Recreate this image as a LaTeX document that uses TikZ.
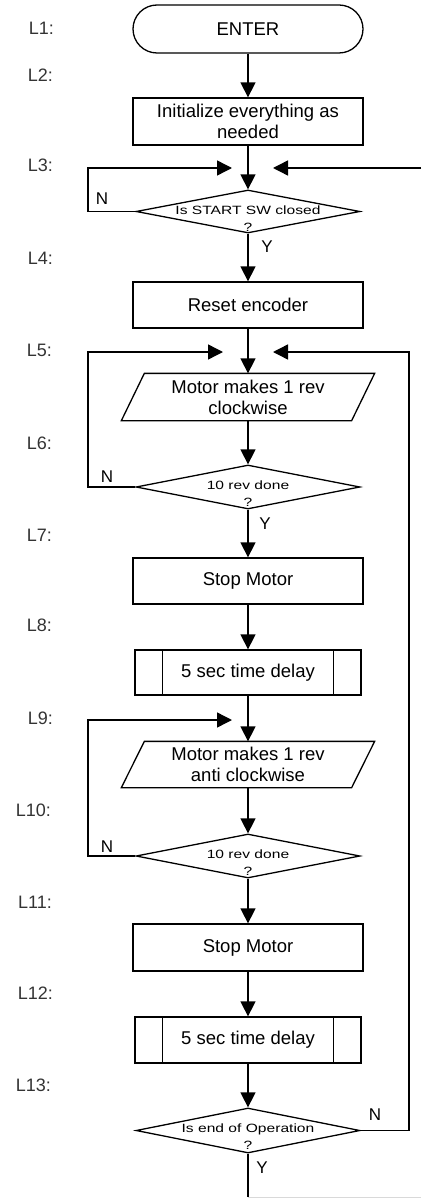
\documentclass[tikz,border=0pt]{standalone}
\usepackage{fontspec}
\setmainfont{Liberation Sans}
\newfontfamily\widefont[FakeStretch=1.3]{Liberation Sans}
\usetikzlibrary{arrows.meta,calc,shapes.geometric}
\tikzset{
  box/.style={draw, line width=1.3pt, rectangle, minimum width=230pt, minimum height=46pt, inner sep=0pt, align=center, font=\fontsize{18.5}{21}\selectfont},
  nobox/.style={box, draw=none},
  dia/.style={draw, line width=1.3pt, shape=diamond, inner sep=0pt},
  dtext/.style={align=center, inner sep=0pt, font=\widefont\fontsize{12}{17}\selectfont},
  arr/.style={draw, line width=1.4pt, -{Triangle[length=15pt,width=15pt]}},
  conn/.style={draw, line width=1.4pt},
  lab/.style={anchor=east, inner sep=0pt, text=black!80, font=\fontsize{18}{20}\selectfont},
  yn/.style={inner sep=0pt, font=\fontsize{17}{19}\selectfont}
}
\begin{document}
\begin{tikzpicture}[x=1pt,y=-1pt]
\useasboundingbox (0,0) rectangle (421,1198);

% line labels
\node[lab] (l1) at (54,28) {L1:};
\node[lab] (l2) at (53,75) {L2:};
\node[lab] (l3) at (53,165) {L3:};
\node[lab] (l4) at (53,258) {L4:};
\node[lab] (l5) at (52,350) {L5:};
\node[lab] (l6) at (52,443) {L6:};
\node[lab] (l7) at (52,535) {L7:};
\node[lab] (l8) at (52,625) {L8:};
\node[lab] (l9) at (53,718) {L9:};
\node[lab] (l10) at (51,810) {L10:};
\node[lab] (l11) at (52,902) {L11:};
\node[lab] (l12) at (53,993) {L12:};
\node[lab] (l13) at (51,1085) {L13:};

% shapes
\node[box, minimum height=48pt, rounded corners=24pt] (enter) at (248,29) {ENTER};
\node[box, minimum height=47pt] (init) at (248,121.5) {Initialize everything as\\needed};
\node[dia, minimum width=224pt, minimum height=43pt] (d1) at (248,211.5) {};
\node[dtext] (t1) at (248,219) {Is START SW closed\\?};
\node[box] (reset) at (248,305) {Reset encoder};
\node[nobox, minimum width=252pt] (p1) at (248,397) {Motor makes 1 rev\\clockwise};
\draw[line width=1.3pt] ($(p1.north west)+(23,0)$) -- (p1.north east) -- ($(p1.south east)+(-23,0)$) -- (p1.south west) -- cycle;
\node[dia, minimum width=224pt, minimum height=44pt] (d2) at (248,487) {};
\node[dtext] (t2) at (248,494) {10 rev done\\?};
\node[box] (stop1) at (248,581) {Stop Motor};
\node[box, minimum width=226pt, minimum height=45pt] (delay1) at (248,672.5) {5 sec time delay};
\draw[line width=1.3pt] ($(delay1.north west)+(28,0)$) -- ($(delay1.south west)+(28,0)$);
\draw[line width=1.3pt] ($(delay1.north east)+(-28,0)$) -- ($(delay1.south east)+(-28,0)$);
\node[nobox, minimum width=252pt, minimum height=45pt] (p2) at (248,764.5) {Motor makes 1 rev\\anti clockwise};
\draw[line width=1.3pt] ($(p2.north west)+(23,0)$) -- (p2.north east) -- ($(p2.south east)+(-23,0)$) -- (p2.south west) -- cycle;
\node[dia, minimum width=224pt, minimum height=44pt] (d3) at (248,856) {};
\node[dtext] (t3) at (248,863) {10 rev done\\?};
\node[box, minimum height=47pt] (stop2) at (248,947.5) {Stop Motor};
\node[box, minimum width=226pt] (delay2) at (248,1040) {5 sec time delay};
\draw[line width=1.3pt] ($(delay2.north west)+(28,0)$) -- ($(delay2.south west)+(28,0)$);
\draw[line width=1.3pt] ($(delay2.north east)+(-28,0)$) -- ($(delay2.south east)+(-28,0)$);
\node[dia, minimum width=224pt, minimum height=45pt] (d4) at (248,1130.5) {};
\node[dtext] (t4) at (248,1137) {Is end of Operation\\?};

% helper coordinates
\coordinate (lx) at (88,0);
\coordinate (rx) at (409,0);
\coordinate (m1L) at (232,168);
\coordinate (m1R) at (273,168);
\coordinate (e1) at (421,168);
\coordinate (m2L) at (223,352);
\coordinate (m2R) at (273,352);
\coordinate (m3L) at (232,720);
\coordinate (bot) at (248,1197);
\coordinate (botR) at (421,1197);

% main flow
\draw[arr] (enter) -- (init);
\draw[arr] (init) -- (d1.north);
\draw[arr] (d1.south) -- (reset);
\draw[arr] (reset) -- (p1);
\draw[arr] (p1) -- (d2.north);
\draw[arr] (d2.south) -- (stop1);
\draw[arr] (stop1) -- (delay1);
\draw[arr] (delay1) -- (p2);
\draw[arr] (p2) -- (d3.north);
\draw[arr] (d3.south) -- (stop2);
\draw[arr] (stop2) -- (delay2);
\draw[arr] (delay2) -- (d4.north);
\draw[conn] (d4.south) -- (bot);
\draw[line width=1pt, black!15] (bot) -- (botR);

% loops
\draw[arr] (d1.west) -- (d1.west -| lx) |- (m1L);
\draw[arr] (e1) -- (m1R);
\draw[arr] (d2.west) -- (d2.west -| lx) |- (m2L);
\draw[arr] (d4.east) -- (d4.east -| rx) |- (m2R);
\draw[arr] (d3.west) -- (d3.west -| lx) |- (m3L);

% Y / N labels
\node[yn] (n1) at (102,199) {N};
\node[yn] (y1) at (267,247) {Y};
\node[yn] (n2) at (107,477) {N};
\node[yn] (y2) at (265,524) {Y};
\node[yn] (n3) at (107,847) {N};
\node[yn] (n4) at (375,1115) {N};
\node[yn] (y4) at (262,1168) {Y};
\end{tikzpicture}
\end{document}
